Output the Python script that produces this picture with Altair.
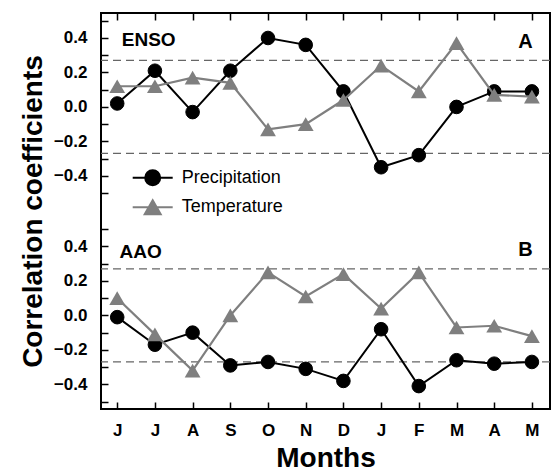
import altair as alt
import pandas as pd

# ---------------- data ----------------
months = ["J", "J", "A", "S", "O", "N", "D", "J", "F", "M", "A", "M"]
series_names = ["Precipitation", "Temperature"]
panel_names = ["ENSO", "AAO"]
panel_letters = ["A", "B"]

enso_precip = [0.02, 0.21, -0.03, 0.21, 0.40, 0.36, 0.09, -0.35, -0.28, 0.00, 0.09, 0.09]
enso_temp = [0.12, 0.12, 0.17, 0.14, -0.13, -0.10, 0.04, 0.24, 0.09, 0.37, 0.07, 0.06]
aao_precip = [-0.01, -0.17, -0.10, -0.29, -0.27, -0.31, -0.38, -0.08, -0.41, -0.26, -0.28, -0.27]
aao_temp = [0.10, -0.11, -0.32, 0.00, 0.25, 0.11, 0.24, 0.04, 0.25, -0.07, -0.06, -0.12]

significance = [0.27, -0.27]

# ---------------- layout helpers ----------------
panel_offsets = {"ENSO": 0.0, "AAO": -1.21}   # vertical stacking of the two panels
colors = {"Precipitation": "#000000", "Temperature": "#7f7f7f"}
FONT = "Liberation Sans"

rows = []
for panel, pr, te in [("ENSO", enso_precip, enso_temp), ("AAO", aao_precip, aao_temp)]:
    for i in range(len(months)):
        rows.append({"idx": i, "panel": panel, "series": "Precipitation", "value": pr[i],
                     "c": pr[i] + panel_offsets[panel]})
        rows.append({"idx": i, "panel": panel, "series": "Temperature", "value": te[i],
                     "c": te[i] + panel_offsets[panel]})
df = pd.DataFrame(rows)

rule_df = pd.DataFrame([{"panel": p, "c": s + panel_offsets[p]} for p in panel_names for s in significance])

name_df = pd.DataFrame([
    {"text": panel_names[0], "idx": 0.12, "c": 0.386 + panel_offsets["ENSO"]},
    {"text": panel_names[1], "idx": 0.06, "c": 0.367 + panel_offsets["AAO"]},
])
letter_df = pd.DataFrame([
    {"text": panel_letters[0], "idx": 11.02, "c": 0.378 + panel_offsets["ENSO"]},
    {"text": panel_letters[1], "idx": 11.02, "c": 0.377 + panel_offsets["AAO"]},
])

# y ticks (every 0.1 inside each panel), labels every 0.2
tick_pos, conds = [], []
for p in panel_names:
    off = panel_offsets[p]
    for k in range(-5, 6):
        pos = round(k / 10 + off, 4)
        tick_pos.append(pos)
        if k % 2 == 0:
            lab = "%.1f" % abs(k / 10)
            if k < 0:
                lab = "\u2212" + lab
            conds.append("abs(datum.value - (%s)) < 0.001 ? '%s'" % (pos, lab))
y_label_expr = " : ".join(conds) + " : ''"
x_label_expr = "[" + ",".join("'%s'" % m for m in months) + "][round(datum.value)]"

x_scale = alt.Scale(domain=[-0.43, 11.48], nice=False, zero=False)
y_scale = alt.Scale(domain=[-1.753, 0.545], nice=False, zero=False)

y_axis = alt.Axis(values=tick_pos, labelExpr=y_label_expr, tickSize=7, offset=-7, domain=False,
                  grid=False, tickColor="black", tickWidth=1.5, labelFont=FONT, labelFontSize=17,
                  labelFontWeight="bold", labelColor="black", labelPadding=14, labelOverlap=False,
                  labelFlush=False, title="Correlation coefficients", titleFont=FONT,
                  titleFontSize=28, titleFontWeight="bold", titleColor="black", titlePadding=6)
x_axis_bottom = alt.Axis(values=list(range(len(months))), labelExpr=x_label_expr, tickSize=7,
                         offset=-7, domain=False, grid=False, tickColor="black", tickWidth=1.5,
                         labelFont=FONT, labelFontSize=17, labelFontWeight="bold",
                         labelColor="black", labelPadding=13, labelOverlap=False, labelFlush=False,
                         title="Months", titleFont=FONT, titleFontSize=28, titleFontWeight="bold",
                         titleColor="black", titlePadding=6)
x_axis_top = alt.Axis(orient="top", values=list(range(len(months))), tickSize=7, offset=-7,
                      domain=False, grid=False, labels=False, tickColor="black", tickWidth=1.5,
                      title=None)

X = lambda ax: alt.X("idx:Q", scale=x_scale, axis=ax)
Y = alt.Y("c:Q", scale=y_scale, axis=y_axis)

base = alt.Chart(df)

rules = alt.Chart(rule_df).mark_rule(color="#666666", strokeWidth=1.3, strokeDash=[8, 5]).encode(
    y=Y)

line_p = base.transform_filter(alt.datum.series == "Precipitation").mark_line(
    color=colors["Precipitation"], strokeWidth=2).encode(x=X(x_axis_bottom), y=Y, detail="panel:N")
pts_p = base.transform_filter(alt.datum.series == "Precipitation").mark_point(
    shape="circle", filled=True, size=185, color=colors["Precipitation"], opacity=1,
    stroke="#000000", strokeWidth=1).encode(x=X(x_axis_top), y=Y)
line_t = base.transform_filter(alt.datum.series == "Temperature").mark_line(
    color=colors["Temperature"], strokeWidth=2.2).encode(x=X(None), y=Y, detail="panel:N")
pts_t = base.transform_filter(alt.datum.series == "Temperature").mark_point(
    shape="triangle-up", filled=True, size=250, color=colors["Temperature"], opacity=1).encode(
    x=X(None), y=Y)

names = alt.Chart(name_df).mark_text(font=FONT, fontSize=19, fontWeight="bold", color="black",
                                     baseline="middle", align="left").encode(
    x=X(None), y=Y, text="text:N")
letters = alt.Chart(letter_df).mark_text(font=FONT, fontSize=20, fontWeight="bold", color="black",
                                         baseline="middle", align="right").encode(
    x=X(None), y=Y, text="text:N")

# legend symbols: line through marker
circle_path = "M-2,0L2,0M0.75,0A0.75,0.75,0,1,1,-0.75,0A0.75,0.75,0,1,1,0.75,0Z"
tri_path = "M-2,0L2,0M0,-0.7L0.8,0.7L-0.8,0.7Z"
leg = alt.Legend(orient="none", legendX=40.7, legendY=153.7, title=None, symbolSize=400,
                 symbolStrokeWidth=2, labelOffset=18, labelFont=FONT, labelFontSize=18,
                 labelColor="black", rowPadding=6.6, padding=0, symbolOpacity=1)
legend_layer = base.transform_filter("false").mark_point(filled=True, opacity=1, strokeWidth=2).encode(
    shape=alt.Shape("series:N", scale=alt.Scale(domain=series_names, range=[circle_path, tri_path]),
                    legend=leg),
    fill=alt.Fill("series:N", scale=alt.Scale(domain=series_names,
                                              range=[colors[s] for s in series_names]), legend=leg),
    stroke=alt.Stroke("series:N", scale=alt.Scale(domain=series_names,
                                                  range=[colors[s] for s in series_names]), legend=leg),
)

chart = alt.layer(rules, line_p, pts_p, line_t, pts_t, names, letters, legend_layer).resolve_axis(
    x="independent").properties(
    width=449, height=396,
    padding={"left": 101, "top": 13, "right": 3, "bottom": 65},
    autosize=alt.AutoSizeParams(type="none"),
    background="white",
).configure_view(stroke="black", strokeWidth=2)

chart.save("out.html", embed_options={"renderer": "svg", "actions": False})
